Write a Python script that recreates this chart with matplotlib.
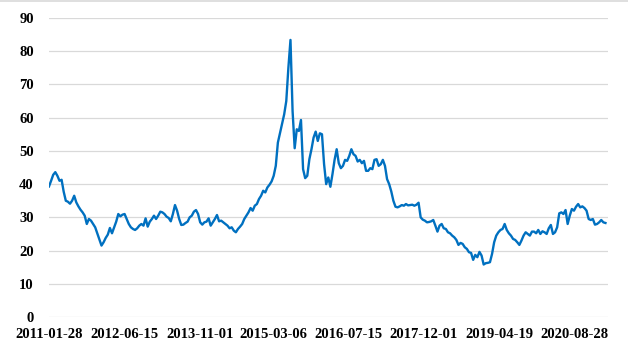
import pandas as pd
import numpy as np
import matplotlib
matplotlib.use("Agg")
import matplotlib.pyplot as plt
from matplotlib.lines import Line2D

# ================= DATA (~biweekly) =================
start_date = "2011-01-28"
values = [
    39.3, 41.0, 42.8, 43.6, 42.5, 41.0, 41.3, 37.7, 35.0, 34.7,
    34.1, 35.0, 36.5, 34.5, 33.3, 32.3, 31.5, 30.5, 28.0, 29.5,
    29.0, 28.0, 27.0, 25.2, 23.5, 21.5, 22.5, 23.8, 24.8, 26.8,
    25.2, 27.0, 28.7, 31.0, 30.3, 30.8, 31.0, 29.5, 28.0, 27.0,
    26.5, 26.2, 26.7, 27.5, 28.0, 27.5, 29.7, 27.2, 28.7, 29.5,
    30.5, 29.5, 30.5, 31.7, 31.5, 31.0, 30.2, 29.8, 28.8, 31.0,
    33.7, 32.0, 29.5, 27.7, 27.8, 28.3, 28.7, 30.0, 30.5, 31.7,
    32.2, 31.0, 28.5, 27.8, 28.5, 28.7, 29.7, 27.5, 28.5, 29.5,
    30.7, 28.8, 29.0, 28.5, 28.0, 27.5, 26.7, 27.0, 26.0, 25.5,
    26.5, 27.2, 28.0, 29.5, 30.5, 31.5, 32.8, 32.0, 33.5, 34.0,
    35.5, 36.5, 38.0, 37.5, 39.0, 39.8, 40.8, 42.5, 45.5, 52.5,
    55.3, 58.0, 61.0, 65.0, 75.0, 83.4, 62.0, 50.8, 56.5, 56.0,
    59.3, 44.5, 41.8, 42.5, 47.5, 50.5, 54.0, 55.8, 53.0, 55.3,
    55.0, 46.0, 40.0, 42.0, 39.2, 43.0, 47.3, 50.5, 46.3, 44.8,
    45.5, 47.3, 47.0, 48.5, 50.5, 49.0, 48.5, 46.8, 47.3, 46.3,
    47.0, 44.0, 44.0, 44.8, 44.5, 47.3, 47.5, 45.5, 46.0, 47.3,
    45.5, 41.5, 40.0, 37.8, 35.0, 33.2, 33.0, 33.3, 33.7, 33.5,
    34.0, 33.6, 33.7, 33.8, 33.5, 33.8, 34.4, 30.0, 29.3, 29.0,
    28.5, 28.6, 28.8, 29.2, 27.5, 25.7, 27.5, 28.0, 26.7, 26.5,
    25.5, 25.2, 24.5, 24.0, 23.2, 21.7, 22.3, 22.0, 21.0, 20.5,
    19.5, 19.3, 17.2, 18.7, 18.0, 19.6, 18.5, 15.8, 16.2, 16.3,
    16.5, 19.0, 22.5, 24.5, 25.5, 26.2, 26.5, 28.0, 26.2, 25.2,
    24.5, 23.5, 23.2, 22.5, 21.7, 23.0, 24.5, 25.5, 25.0, 24.5,
    25.7, 25.7, 25.2, 26.2, 25.0, 25.8, 25.5, 25.0, 26.7, 27.7,
    25.0, 25.5, 27.0, 31.2, 31.5, 31.0, 32.2, 28.0, 30.5, 32.5,
    32.0, 33.2, 34.0, 33.0, 33.3, 32.8, 32.0, 29.5, 29.2, 29.5,
    27.8, 28.0, 28.5, 29.2, 28.5, 28.3,
]
tick_labels = ["2011-01-28", "2012-06-15", "2013-11-01", "2015-03-06",
               "2016-07-15", "2017-12-01", "2019-04-19", "2020-08-28"]
y_ticks = [0, 10, 20, 30, 40, 50, 60, 70, 80, 90]

dates = pd.date_range(start_date, periods=len(values), freq="14D")

# ================= PLOTTING =================
plt.rcParams["font.family"] = ["Liberation Serif", "DejaVu Serif"]

fig = plt.figure(figsize=(6.28, 3.53), dpi=100)
ax = fig.add_axes([49 / 628, 36 / 353, 559 / 628, 299 / 353])

ax.plot(dates, values, color="#0070C0", linewidth=1.7, solid_joinstyle="round")

t0 = pd.Timestamp(start_date)
ax.set_xlim(t0, t0 + pd.Timedelta(days=3727))
ax.set_ylim(0, 90)

ax.set_xticks([pd.Timestamp(t) for t in tick_labels])
ax.set_xticklabels(tick_labels)
ax.set_yticks(y_ticks)

ax.grid(True, axis="y", color="#d9d9d9", linewidth=0.9)
ax.set_axisbelow(True)
for s in ax.spines.values():
    s.set_visible(False)

ax.tick_params(axis="both", length=0, labelsize=10.5)
ax.tick_params(axis="y", pad=11)
ax.tick_params(axis="x", pad=8)
for lbl in ax.get_xticklabels() + ax.get_yticklabels():
    lbl.set_fontweight("bold")

# thin chart border at top of the picture
fig.add_artist(Line2D([0, 1], [0.998, 0.998], transform=fig.transFigure,
                      color="#d9d9d9", linewidth=1.2))

fig.savefig("out.png", dpi=100)
